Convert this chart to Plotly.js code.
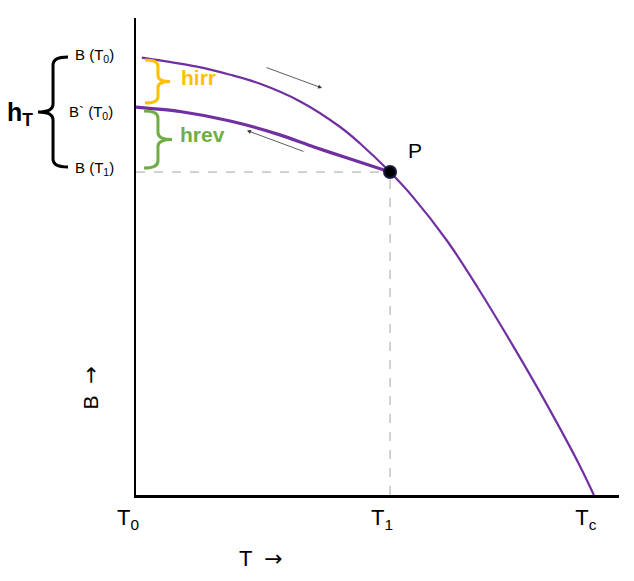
<!DOCTYPE html>
<html>
<head>
<meta charset="utf-8">
<script src="https://cdn.plot.ly/plotly-3.0.1.min.js"></script>
<style>html,body{margin:0;padding:0;background:#fff;}#chart{width:634px;height:581px;}</style>
</head>
<body>
<div id="chart"></div>
<script>
// ---- data (normalised T and B) ----
const upperT = [0.012, 0.126, 0.195, 0.257, 0.340, 0.422, 0.464, 0.526, 0.574, 0.644, 0.708, 0.781, 0.851, 0.919, 0.948];
const upperB = [0.917, 0.898, 0.881, 0.862, 0.825, 0.772, 0.737, 0.677, 0.624, 0.533, 0.434, 0.312, 0.189, 0.061, 0.000];
const lowerT = [0.000, 0.091, 0.195, 0.298, 0.367, 0.436, 0.526];
const lowerB = [0.813, 0.804, 0.784, 0.755, 0.730, 0.707, 0.677];
const pointT = [0.526];
const pointB = [0.677];
const tickVals = [0, 0.526, 0.948];
const tickText = ['T<sub>0</sub>', 'T<sub>1</sub>', 'T<sub>c</sub>'];

// ---- geometry helpers ----
const W = 634, H = 581, L = 136, R = 619, TOP = 18, BOT = 495;
const px = v => (v - L) / (R - L);
const py = v => (BOT - v) / (BOT - TOP);

function brace(xOpen, yTop, yBot, xMid, xTip, r) {
  const yc = (yTop + yBot) / 2;
  const pts = [
    ['M', xOpen, yTop], ['Q', xMid, yTop, xMid, yTop + r], ['L', xMid, yc - r],
    ['Q', xMid, yc, xTip, yc], ['Q', xMid, yc, xMid, yc + r], ['L', xMid, yBot - r],
    ['Q', xMid, yBot, xOpen, yBot]
  ];
  return pts.map(p => {
    let s = p[0] + ' ';
    for (let i = 1; i < p.length; i += 2) s += px(p[i]).toFixed(4) + ',' + py(p[i + 1]).toFixed(4) + ' ';
    return s;
  }).join('');
}

const purple = '#7030A0', orange = '#FFC000', green = '#70AD47';
const fontFam = 'Liberation Sans, Arial, sans-serif';
const arrowSpan = '<span style="font-family:DejaVu Sans">\u2192</span>';

const traces = [
  {x: upperT, y: upperB, mode: 'lines', line: {color: purple, width: 2.2, shape: 'spline', smoothing: 1}, hoverinfo: 'skip'},
  {x: lowerT, y: lowerB, mode: 'lines', line: {color: purple, width: 3.2, shape: 'spline', smoothing: 0.6}, hoverinfo: 'skip'},
  {x: pointT, y: pointB, mode: 'markers', marker: {size: 12, color: '#000', line: {color: '#1a1a40', width: 2}}, hoverinfo: 'skip'}
];

const annotations = [
  {xref: 'paper', yref: 'paper', x: px(73), y: py(56), xanchor: 'left', yanchor: 'middle', text: 'B (T<sub>0</sub>)', showarrow: false, font: {size: 15, color: '#000', family: fontFam}},
  {xref: 'paper', yref: 'paper', x: px(67), y: py(112), xanchor: 'left', yanchor: 'middle', text: 'B` (T<sub>0</sub>)', showarrow: false, font: {size: 15, color: '#000', family: fontFam}},
  {xref: 'paper', yref: 'paper', x: px(73), y: py(169), xanchor: 'left', yanchor: 'middle', text: 'B (T<sub>1</sub>)', showarrow: false, font: {size: 15, color: '#000', family: fontFam}},
  {xref: 'paper', yref: 'paper', x: px(20), y: py(114), xanchor: 'center', yanchor: 'middle', text: '<b>h<sub>T</sub></b>', showarrow: false, font: {size: 25, color: '#000', family: fontFam}},
  {xref: 'paper', yref: 'paper', x: px(179), y: py(78), xanchor: 'left', yanchor: 'middle', text: '<b>hirr</b>', showarrow: false, font: {size: 21, color: orange, family: fontFam}},
  {xref: 'paper', yref: 'paper', x: px(178), y: py(134), xanchor: 'left', yanchor: 'middle', text: '<b>hrev</b>', showarrow: false, font: {size: 21, color: green, family: fontFam}},
  {xref: 'paper', yref: 'paper', x: px(415), y: py(150), xanchor: 'center', yanchor: 'middle', text: 'P', showarrow: false, font: {size: 21, color: '#000', family: fontFam}},
  {xref: 'paper', yref: 'paper', x: px(237), y: py(558), xanchor: 'left', yanchor: 'middle', text: 'T  ' + arrowSpan, showarrow: false, font: {size: 22, color: '#000', family: fontFam}},
  {xref: 'paper', yref: 'paper', x: px(90), y: py(412), xanchor: 'center', yanchor: 'bottom', text: 'B  ' + arrowSpan, textangle: -90, showarrow: false, font: {size: 21, color: '#000', family: fontFam}},
  {xref: 'x', yref: 'y', x: px(322), y: py(88), axref: 'x', ayref: 'y', ax: px(265), ay: py(67), text: '', showarrow: true, arrowhead: 2, arrowsize: 1, arrowwidth: 0.8, arrowcolor: '#333'},
  {xref: 'x', yref: 'y', x: px(247), y: py(130.5), axref: 'x', ayref: 'y', ax: px(305), ay: py(152), text: '', showarrow: true, arrowhead: 2, arrowsize: 1, arrowwidth: 0.8, arrowcolor: '#333'}
];

const shapes = [
  {type: 'line', xref: 'x', yref: 'y', x0: 0, x1: pointT[0], y0: pointB[0], y1: pointB[0], line: {color: '#A6A6A6', width: 1, dash: 'dash'}, layer: 'below'},
  {type: 'line', xref: 'x', yref: 'y', x0: pointT[0], x1: pointT[0], y0: 0, y1: pointB[0], line: {color: '#A6A6A6', width: 1, dash: 'dash'}, layer: 'below'},
  {type: 'path', xref: 'paper', yref: 'paper', path: brace(145, 60, 103, 158, 170, 6), line: {color: orange, width: 3}},
  {type: 'path', xref: 'paper', yref: 'paper', path: brace(144, 111, 168, 158, 172, 7), line: {color: green, width: 3}},
  {type: 'path', xref: 'paper', yref: 'paper', path: brace(68, 57, 167, 53, 38, 8), line: {color: '#000', width: 3}}
];

const layout = {
  width: W, height: H,
  margin: {l: L, r: W - R, t: TOP, b: H - BOT, pad: 0},
  paper_bgcolor: '#fff', plot_bgcolor: '#fff',
  showlegend: false,
  xaxis: {range: [0, 1], showgrid: false, zeroline: false, showline: true, linecolor: '#000', linewidth: 2.5,
          tickmode: 'array', tickvals: tickVals, ticktext: tickText, ticks: 'outside', ticklen: 1, tickcolor: 'rgba(0,0,0,0)',
          ticklabelshift: -8, tickfont: {size: 22, color: '#000', family: fontFam}, fixedrange: true},
  yaxis: {range: [0, 1], showgrid: false, zeroline: false, showline: true, linecolor: '#000', linewidth: 2.5,
          showticklabels: false, ticks: '', fixedrange: true},
  shapes: shapes,
  annotations: annotations
};

Plotly.newPlot('chart', traces, layout, {displayModeBar: false, staticPlot: true});
</script>
</body>
</html>
